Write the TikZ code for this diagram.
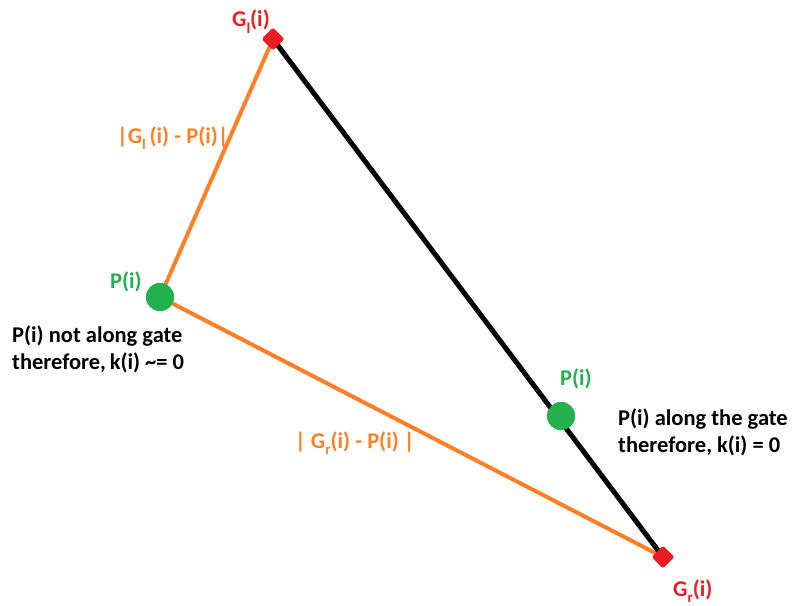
\documentclass[tikz,border=0pt]{standalone}
\usepackage{fontspec}
\setmainfont{Carlito}
\definecolor{pred}{RGB}{237,28,36}
\definecolor{porange}{RGB}{255,127,39}
\definecolor{pgreen}{RGB}{34,177,76}
\newcommand{\lowsub}[1]{\raisebox{-0.3em}{\fontsize{15}{15}\selectfont #1}}
\begin{document}
\begin{tikzpicture}[x=1pt,y=-1pt,
  lbl/.style={font=\fontsize{22.5}{26.5}\selectfont\bfseries, inner sep=0pt},
  gate/.style={fill=pred, draw=pred, line join=round, line width=3pt, minimum size=13pt, rotate=45, inner sep=0pt, rectangle},
  pt/.style={circle, fill=pgreen, minimum size=28pt, inner sep=0pt},
  oline/.style={draw=porange, line width=4pt},
  bline/.style={draw=black, line width=5pt}]
\useasboundingbox (0,0) rectangle (792,605);
\coordinate (gl) at (273,39);
\coordinate (gr) at (663,557);
\node[pt] (p1) at (160,297) {};
\node[pt] (p2) at (561,416) {};
\draw[oline] (gl) -- (p1.center);
\draw[oline] (p1.center) -- (gr);
\draw[bline] (gl) -- (gr);
\node[pt] at (160,297) {};
\node[pt] at (561,416) {};
\node[gate] (glnode) at (gl) {};
\node[gate] (grnode) at (gr) {};
\node[lbl, text=pred, anchor=base west] (gltext) at (232,27) {G\lowsub{l}(i)};
\node[lbl, text=pred, anchor=base west] (grtext) at (673,596) {G\lowsub{r}(i)};
\node[lbl, text=porange, anchor=base west] (d1) at (117,143) {|G\lowsub{l}\,(i) - P(i)|};
\node[lbl, text=porange, anchor=base west] (d2) at (295,448) {| G\lowsub{r}(i) - P(i) |};
\node[lbl, text=pgreen, anchor=base west] (p1t) at (110,288) {P(i)};
\node[lbl, text=pgreen, anchor=base west] (p2t) at (560,385) {P(i)};
\node[lbl, anchor=base west] (t1a) at (12,342) {P(i) not along gate};
\node[lbl, anchor=base west] (t1b) at (12,369) {therefore,\,k(i) \textasciitilde= 0};
\node[lbl, anchor=base west] (t2a) at (618,425) {P(i) along the gate};
\node[lbl, anchor=base west] (t2b) at (618,452) {therefore, k(i) = 0};
\end{tikzpicture}
\end{document}
